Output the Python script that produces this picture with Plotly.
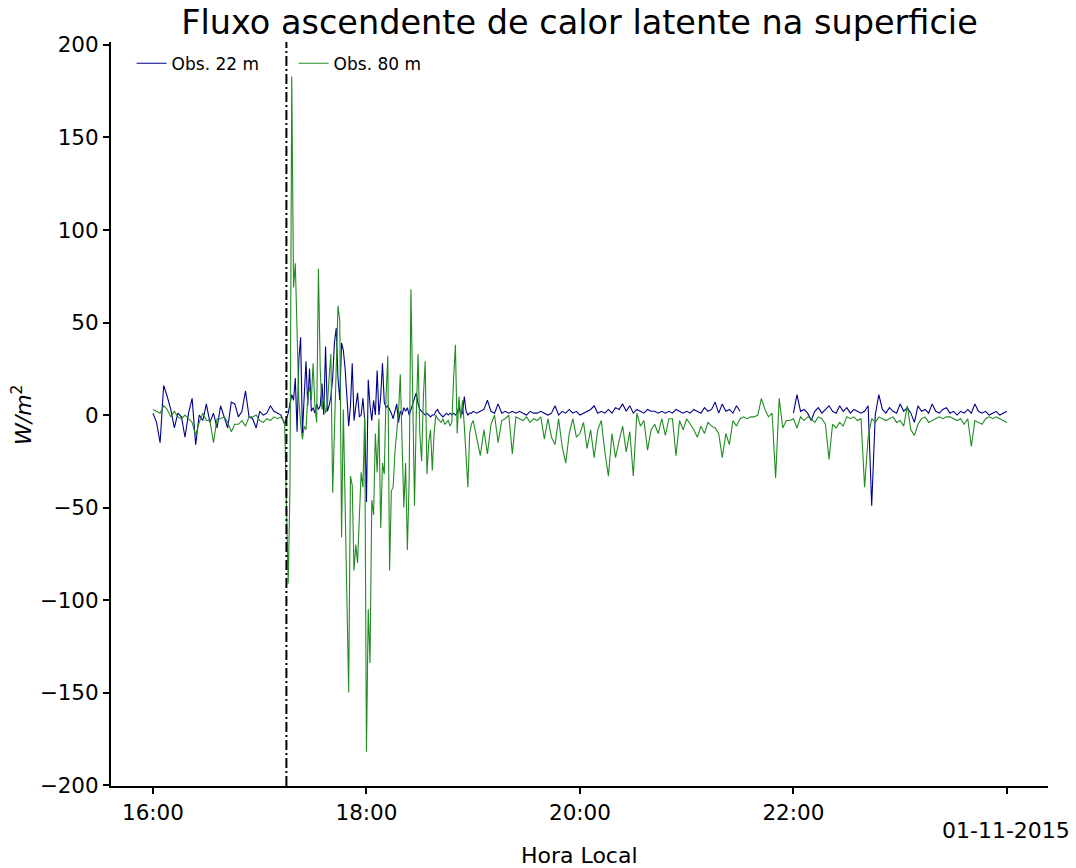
import pandas as pd
import plotly.graph_objects as go

# ---- data: minutes after 16:00 on 01-11-2015 ----
minutes = list(range(0, 76, 2)) + list(range(76, 180)) + list(range(180, 481, 2))

obs_22m = [
    # 16:00 - 17:14 (2-min)
    1, -4, -15, 16, 10, 3, -7, 1, -1, -12, 1, 9, -16, 0, -3, 6, -4, 1, -7, 5,
    -1, -7, 7, 6, -1, 2, 13, -1, -2, -7, 2, 0, 1, 5, 2, 1, 0, -5,
    # 17:16 - 18:59 (1-min)
    1, 6, 11, 8, 20, -9, 30, 42, -10, 10,
    29, 5, 25, 2, 4, 1, 6, 3, 5, 17,
    0, 37, 2, 5, 10, 20, 39, 47, 20, 8,
    39, 35, 25, 10, -6, 5, 28, -3, 5, 12,
    -1, 0, 9, -3, -47, 19, 5, -3, 8, 0,
    24, 0, 10, 28, 7, 4, 5, 3, 1, -2,
    3, 6, -4, 2, 0, 4, 2, 4, 0, 3,
    5, 8, 12, 6, 3, 2, 1, 0, 1, 0,
    -1, 0, 0, 2, 3, 1, 0, -1, 0, 1,
    0, 1, 0, 1, 0, 1, 5, 0, 1, 10,
    2, 0, 1, 1,
    # 19:00 - 24:00 (2-min)
    2, 1, 2, 3, 8, 2, 1, 6, 1, 2,
    1, 2, 1, 2, 1, 0, 2, 1, 1, 2,
    1, 0, 1, 5, 0, 2, 1, 3, 1, 2,
    0, 1, 2, 3, 5, 1, 2, 1, 3, 1,
    4, 3, 6, 2, 5, 1, 3, 2, 1, 3,
    2, 2, 1, 2, 1, 2, 1, 3, 2, 1,
    2, 1, 3, 2, 1, 4, 2, 3, 7, 1,
    6, 2, 3, 1, 5, 2,
    None, None, None, None, None, None, None, None, None, None, None, None, None, None,
    1, 11, 2, 3, 1, -3, 2, 4, 1, 3,
    5, 2, 1, 5, 2, 4, 1, 3, 2, 1,
    2, 5, -49, 0, 11, 3, 1, 4, 2, 1,
    6, 2, 4, 1, -4, 5, 2, 3, 1, 6,
    2, 1, 3, 4, 1, 2, 0, 2, 1, 3,
    1, 6, 2, 1, 2, 0, 1, 2, 0, 1,
    2,
]

obs_80m = [
    # 16:00 - 17:14 (2-min)
    3, 2, 1, 5, 3, -1, 2, -1, -2, 0, -2, -4, -11, -4, 1, -3, -3, -15, -2, -2,
    -1, -4, -9, -5, -5, -3, -6, -1, -1, 0, -3, -4, -2, -3, -1, -2, -1, -4,
    # 17:16 - 18:59 (1-min)
    -91, -40, 183, 69, 82, 40, 8, -5, -13, -6,
    -8, 10, 15, 8, 28, 5, -4, 79, 25, 3,
    10, 1, 5, 20, 33, -42, -10, 30, 59, 51,
    -66, 3, -50, -105, -150, -33, -38, -84, -70, -80,
    -50, -31, -39, -1, -182, -105, -134, -46, -54, -10,
    -31, -2, -61, -26, -32, 10, 32, -84, -41, -39,
    -20, -10, 1, 22, -10, -50, -26, -73, -35, 68,
    10, -49, 0, 33, -10, -25, 10, 29, -32, -15,
    -8, -30, -10, 0, -2, -3, -4, -2, -5, -4,
    -3, -6, -4, 20, 38, -10, 10, -2, 8, -6,
    -25, -39, -10, -5,
    # 19:00 - 24:00 (2-min)
    -3, -12, -22, -8, -21, -5, 0, -15, -3, -2,
    0, -21, -1, -2, -3, -1, -4, -2, -3, -1,
    -13, -2, -12, -16, -2, -17, -26, -10, -2, -12,
    -10, -4, -18, -8, -23, -8, -3, -20, -33, -10,
    -23, -14, -6, -20, -9, -33, 1, -6, -3, -19,
    -8, -5, -10, -2, -11, -2, -2, -22, -3, -8,
    -2, -5, -8, -12, -6, -10, -4, -6, -7, -10,
    -23, -10, -16, -3, -6, -2, -1, -2, -1, -1,
    0, 9, 3, -1, 1, -34, 9, -7, -3, -3,
    -2, -7, -1, -3, -1, -2, -4, -1, -2, -5,
    -24, -5, -7, -4, -6, -1, -2, -1, -3, -2,
    -39, -12, -2, -4, -1, -2, -3, -2, -1, -4,
    -3, -6, 5, -8, -11, -5, -2, -1, -4, -3,
    -2, -1, -2, -1, -1, -2, -3, -2, -5, -2,
    -17, -3, -4, -5, -2, -1, -2, -1, -2, -3,
    -4,
]

series_names = ["Obs. 22 m", "Obs. 80 m"]
series_colors = ["#00008b", "#228b22"]
tick_times = ["2015-11-01 16:00", "2015-11-01 18:00", "2015-11-01 20:00",
              "2015-11-01 22:00", "2015-11-02 00:00"]
tick_labels = ["16:00", "18:00", "20:00", "22:00", ""]
y_ticks = [-200, -150, -100, -50, 0, 50, 100, 150, 200]
event_time = "2015-11-01 17:15"

base = pd.Timestamp("2015-11-01 16:00")
times = [base + pd.Timedelta(minutes=m) for m in minutes]

fig = go.Figure()
for name, vals, col in zip(series_names, [obs_22m, obs_80m], series_colors):
    fig.add_trace(go.Scatter(x=times, y=vals, mode="lines", name=name,
                             line=dict(color=col, width=1.1), connectgaps=False))

fig.add_shape(type="line", x0=event_time, x1=event_time, xref="x",
              y0=0, y1=1, yref="paper",
              line=dict(color="black", width=2, dash="10px,3px,2px,3px"))

font_family = "DejaVu Sans"
fig.update_layout(
    width=1076, height=868,
    margin=dict(l=111, r=28, t=42, b=82),
    plot_bgcolor="white", paper_bgcolor="white",
    font=dict(family=font_family, color="black", size=22),
    title=dict(text="Fluxo ascendente de calor latente na superficie",
               x=0.5, xref="paper", xanchor="center",
               y=1 - 22 / 868, yref="container", yanchor="middle",
               font=dict(size=33.5, family=font_family, color="black")),
    showlegend=True,
    legend=dict(orientation="h", x=0.022, y=0.995, xanchor="left", yanchor="top",
                font=dict(size=17, family=font_family), bgcolor="rgba(0,0,0,0)",
                entrywidth=117, itemwidth=30),
    xaxis=dict(type="date",
               range=["2015-11-01 15:36:24", "2015-11-02 00:23:06"],
               tickvals=tick_times, ticktext=tick_labels,
               showline=True, linecolor="black", linewidth=2,
               ticks="outside", ticklen=6, tickwidth=1.5, tickcolor="black",
               showgrid=False, zeroline=False, tickfont=dict(size=21.5)),
    yaxis=dict(range=[-200.5, 201.6], tickvals=y_ticks,
               showline=True, linecolor="black", linewidth=2,
               ticks="outside", ticklen=6, tickwidth=1.5, tickcolor="black",
               showgrid=False, zeroline=False, tickfont=dict(size=21.5)),
)

fig.add_annotation(text="Hora Local", xref="paper", yref="paper",
                   x=0.5, y=-(856 - 786) / 744, xanchor="center", yanchor="middle",
                   showarrow=False, font=dict(size=22))
fig.add_annotation(text="01-11-2015", xref="paper", yref="paper",
                   x=(1006 - 111) / 937, y=-(830 - 786) / 744,
                   xanchor="center", yanchor="middle",
                   showarrow=False, font=dict(size=22))
fig.add_annotation(text="<i>W/m</i><sup>2</sup>", xref="paper", yref="paper",
                   x=(22 - 111) / 937, y=(786 - 415) / 744,
                   xanchor="center", yanchor="middle", textangle=-90,
                   showarrow=False, font=dict(size=22))

fig.write_html("out.html")
